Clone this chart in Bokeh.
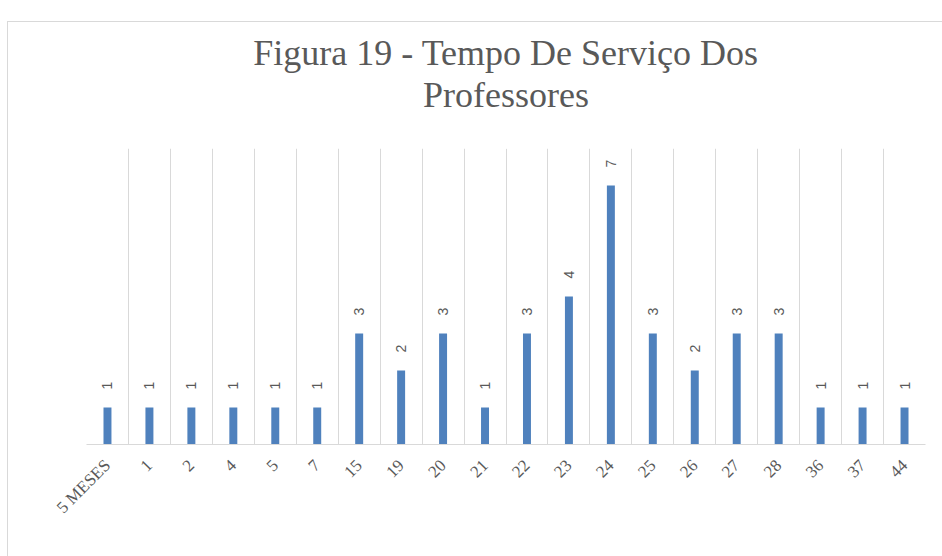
from math import pi
from bokeh.plotting import figure
from bokeh.models import ColumnDataSource, FixedTicker, Title, LinearAxis
from bokeh.core.properties import value
from bokeh.embed import file_html
from bokeh.resources import INLINE

categories = ["5 MESES", "1", "2", "4", "5", "7", "15", "19", "20", "21",
              "22", "23", "24", "25", "26", "27", "28", "36", "37", "44"]
counts = [1, 1, 1, 1, 1, 1, 3, 2, 3, 1, 3, 4, 7, 3, 2, 3, 3, 1, 1, 1]
title_line1 = "Figura 19 - Tempo De Serviço Dos"
title_line2 = "Professores"

xs = [i + 0.5 for i in range(len(categories))]
src = ColumnDataSource(dict(x=xs, top=counts, label=[str(c) for c in counts]))

p = figure(width=935, height=535, x_range=(0, len(categories)), y_range=(0, 8),
           title=None, output_backend="svg", toolbar_location=None,
           min_border_left=78, min_border_right=18, min_border_top=126, min_border_bottom=113)
p.styles = {"border-top": "1px solid #d9d9d9", "border-left": "1px solid #d9d9d9",
            "margin-top": "21px", "margin-left": "7px", "box-sizing": "border-box"}

p.vbar(x="x", top="top", width=0.19, bottom=0, source=src,
       fill_color="#4F81BD", line_color=None)
p.text(x="x", y="top", text="label", source=src, angle=pi / 2,
       text_align="left", text_baseline="middle", y_offset=-18,
       text_font=value("Liberation Sans"), text_font_size="14px", text_color="#595959")

p.xgrid.ticker = FixedTicker(ticks=list(range(len(categories) + 1)))
p.xgrid.grid_line_color = "#d9d9d9"
p.xgrid.grid_line_width = 1
p.ygrid.visible = False
p.yaxis.visible = False

p.xaxis.ticker = FixedTicker(ticks=xs)
p.xaxis.major_label_overrides = {x: c for x, c in zip(xs, categories)}
p.xaxis.major_label_orientation = pi / 4
p.xaxis.major_label_text_font = "Liberation Serif"
p.xaxis.major_label_text_font_size = "17px"
p.xaxis.major_label_text_color = "#595959"
p.xaxis.major_label_standoff = 12
p.xaxis.axis_line_color = "#d9d9d9"
p.xaxis.major_tick_line_color = None
p.xaxis.minor_tick_line_color = None
p.outline_line_color = None

# blank spacer axis between the title and the plot area (white tick, no labels)
spacer = LinearAxis(ticker=FixedTicker(ticks=[len(categories) / 2]), axis_line_color=None,
                    major_tick_line_color="#ffffff", minor_tick_line_color=None,
                    major_tick_out=34, major_tick_in=0, minor_tick_out=0,
                    major_label_standoff=0, major_label_text_color=None)

title_style = dict(align="center", text_font="Liberation Serif", text_font_size="36px",
                   text_color="#595959", text_font_style="normal", standoff=0)
t1 = Title(text=title_line1, **title_style)
t2 = Title(text=title_line2, **title_style)
p.above = [spacer, t2, t1]

open("out.html", "w").write(file_html(p, INLINE))
